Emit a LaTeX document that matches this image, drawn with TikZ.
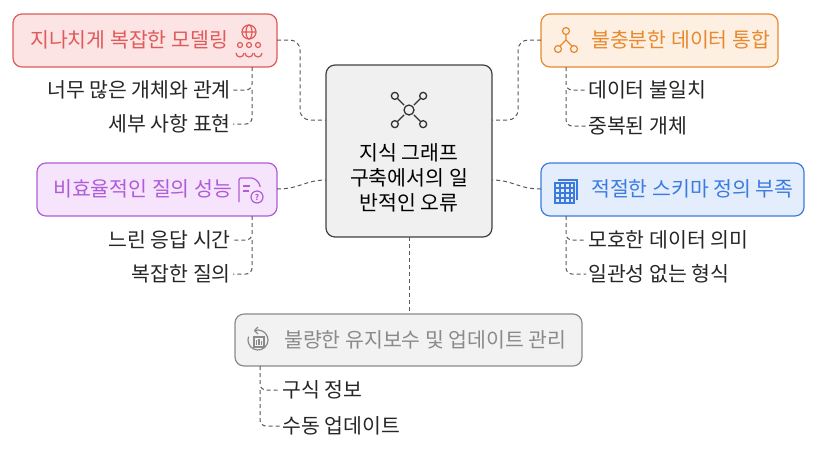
\documentclass[tikz,border=0pt]{standalone}
\usepackage{fontspec}
\setmainfont{Noto Sans CJK KR}
\begin{document}
\begin{tikzpicture}[x=1pt,y=-1pt,
  every node/.style={font=\fontsize{20.5}{25}\selectfont,inner sep=2pt},
  box/.style={draw,rounded corners=9pt,line width=1.2pt},
  dsh/.style={draw=gray!70!black,line width=1pt,dash pattern=on 4pt off 3pt},
  sub/.style={text=black!85}]
\useasboundingbox (0,0) rectangle (818,451);
\definecolor{cred}{HTML}{E05A5A}\definecolor{fred}{HTML}{FCE4E4}
\definecolor{cor}{HTML}{E8892E}\definecolor{for}{HTML}{FDF0E2}
\definecolor{cpu}{HTML}{B05CD9}\definecolor{fpu}{HTML}{F5E4FB}
\definecolor{cbl}{HTML}{3B7BE0}\definecolor{fbl}{HTML}{E3EDFC}
\definecolor{cgr}{HTML}{8A8A8A}\definecolor{fgr}{HTML}{F2F2F2}
% center
\draw[box,draw=black!75,fill=black!6] (326,65) rectangle (492,237);
\node[align=center] (ct) at (409,178) {지식 그래프\\구축에서의 일\\반적인 오류};
\begin{scope}[line width=1.3pt,draw=black!80]
\draw (409,110) circle (5);
\foreach \a in {-135,-45,45,135}{
 \draw (409,110)++(\a:7) -- ++(\a:9) ++(\a:4) circle (3.5);}
\end{scope}
\coordinate (cl) at (326,120); \coordinate (cr) at (492,120);
\coordinate (cl2) at (326,180); \coordinate (cr2) at (492,180);
\coordinate (cb) at (409,237);
% boxes
\draw[box,draw=cred,fill=fred] (13,14) rectangle (277,67);
\node[text=cred,anchor=west] (t1) at (28,40) {지나치게 복잡한 모델링};
\draw[box,draw=cor,fill=for] (541,14) rectangle (778,67);
\node[text=cor,anchor=west] (t2) at (589,40) {불충분한 데이터 통합};
\draw[box,draw=cpu,fill=fpu] (37,163) rectangle (277,216);
\node[text=cpu,anchor=west] (t3) at (51,189) {비효율적인 질의 성능};
\draw[box,draw=cbl,fill=fbl] (541,163) rectangle (804,216);
\node[text=cbl,anchor=west] (t4) at (589,189) {적절한 스키마 정의 부족};
\draw[box,draw=cgr,fill=fgr] (235,314) rectangle (582,366);
\node[text=cgr,anchor=west] (t5) at (282,340) {불량한 유지보수 및 업데이트 관리};
% icons
\begin{scope}[draw=cred,line width=1.2pt]
\draw (249,32) circle (7); \draw (242,32)--(256,32) (249,32) ellipse (3 and 7);
\foreach \x in {240,249,258}{\draw (\x,45) circle (2.5); \draw (\x-4,53) arc (180:0:4);}
\end{scope}
\begin{scope}[draw=cor,line width=1.2pt]
\draw (566,31) circle (3.5) (558,49) circle (3.5) (574,49) circle (3.5);
\draw (566,34.5)--(566,40) (560,46)--(566,40)--(572,46);
\end{scope}
\begin{scope}[draw=cpu,line width=1.2pt]
\draw[rounded corners=2pt] (239,202)--(239,178)--(254,178)--(260,184)--(260,187);
\draw (257,197) circle (6); \node[text=cpu,font=\fontsize{8}{8}\selectfont\bfseries] at (257,197) {?};
\draw (243,186)--(250,186) (243,191)--(249,191);
\end{scope}
\begin{scope}[draw=cbl,line width=1.2pt]
\draw (555,183) rectangle (574,203);
\foreach \y in {188,193,198}{\draw (555,\y)--(574,\y);}
\foreach \x in {560,565,570}{\draw (\x,183)--(\x,203);}
\draw (558,180)--(577,180)--(577,200);
\end{scope}
\begin{scope}[draw=cgr,line width=1.2pt]
\draw (258,340) ++(250:10) arc (250:560:10);
\draw (254.5,330.6)--(258,327) (254.5,330.6)--(258,334);
\draw[fill=fgr] (254,337) rectangle (264,347);
\draw (256.5,340)--(256.5,345) (259,339)--(259,345) (261.5,341)--(261.5,345);
\end{scope}
% main connectors
\draw[dsh,rounded corners=10pt] (277,40)--(300,40)--(300,120)--(cl);
\draw[dsh,rounded corners=10pt] (541,40)--(518,40)--(518,120)--(cr);
\draw[dsh] (277,189) .. controls (300,189) and (305,180) .. (cl2);
\draw[dsh] (541,189) .. controls (518,189) and (513,180) .. (cr2);
\draw[dsh] (cb)--(409,314);
% sub items
\node[sub,anchor=east] (a1) at (233,90) {너무 많은 개체와 관계};
\node[sub,anchor=east] (a2) at (233,124) {세부 사항 표현};
\draw[dsh,rounded corners=6pt] (252,67)--(252,90)--(a1.east) (252,90)--(252,124)--(a2.east);
\node[sub,anchor=west] (b1) at (586,90) {데이터 불일치};
\node[sub,anchor=west] (b2) at (586,126) {중복된 개체};
\draw[dsh,rounded corners=6pt] (566,67)--(566,90)--(b1.west) (566,90)--(566,126)--(b2.west);
\node[sub,anchor=east] (p1) at (233,240) {느린 응답 시간};
\node[sub,anchor=east] (p2) at (233,274) {복잡한 질의};
\draw[dsh,rounded corners=6pt] (252,216)--(252,240)--(p1.east) (252,240)--(252,274)--(p2.east);
\node[sub,anchor=west] (q1) at (586,240) {모호한 데이터 의미};
\node[sub,anchor=west] (q2) at (586,274) {일관성 없는 형식};
\draw[dsh,rounded corners=6pt] (566,216)--(566,240)--(q1.west) (566,240)--(566,274)--(q2.west);
\node[sub,anchor=west] (g1) at (280,390) {구식 정보};
\node[sub,anchor=west] (g2) at (280,426) {수동 업데이트};
\draw[dsh,rounded corners=6pt] (260,366)--(260,390)--(g1.west) (260,390)--(260,426)--(g2.west);
\end{tikzpicture}
\end{document}
